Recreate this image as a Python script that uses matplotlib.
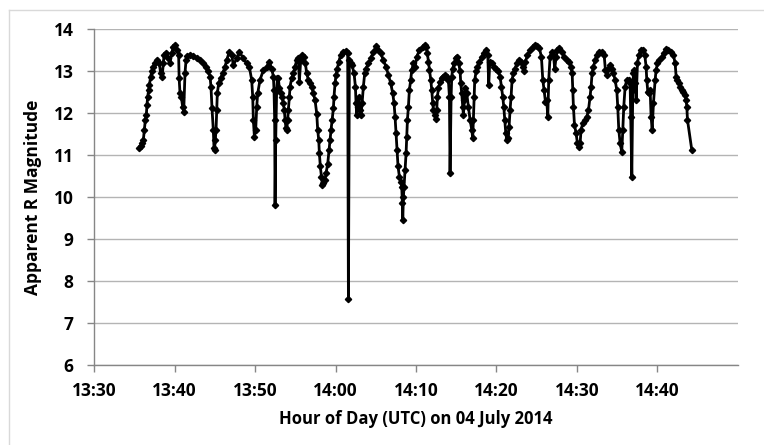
import matplotlib
matplotlib.use("Agg")
import matplotlib.pyplot as plt
from matplotlib.lines import Line2D
from matplotlib.ticker import FuncFormatter

plt.rcParams['font.family'] = ['Open Sans', 'DejaVu Sans']
plt.rcParams['font.weight'] = 'bold'

# time of each frame, minutes after 13:00 UTC
minutes = [
    35.60, 35.77, 35.93, 36.10, 36.22, 36.35, 36.47, 36.55, 36.64, 36.76,
    36.85, 37.01, 37.14, 37.34, 37.55, 37.76, 38.09, 38.25, 38.42, 38.59,
    38.67, 38.92, 39.21, 39.42, 39.62, 39.83, 40.04, 40.33, 40.49, 40.55,
    40.66, 40.82, 40.99, 41.12, 41.28, 41.41, 41.57, 41.90, 42.32, 42.73,
    43.15, 43.56, 43.89, 44.18, 44.39, 44.51, 44.64, 44.80, 44.89, 44.95,
    45.05, 45.14, 45.22, 45.30, 45.47, 45.72, 45.97, 46.26, 46.46, 46.80,
    47.09, 47.29, 47.71, 48.04, 48.54, 48.95, 49.28, 49.57, 49.70, 49.78,
    49.91, 50.07, 50.20, 50.32, 50.61, 51.02, 51.44, 51.77, 52.06, 52.27,
    52.35, 52.43, 52.48, 52.56, 52.68, 52.77, 52.89, 53.01, 53.18, 53.35,
    53.51, 53.64, 53.72, 53.84, 53.93, 54.05, 54.13, 54.26, 54.34, 54.55,
    54.76, 54.96, 55.17, 55.38, 55.50, 55.67, 55.88, 56.08, 56.25, 56.41,
    56.62, 56.83, 57.04, 57.24, 57.45, 57.66, 57.78, 57.91, 57.99, 58.11,
    58.24, 58.36, 58.49, 58.69, 58.82, 59.03, 59.19, 59.32, 59.44, 59.57,
    59.73, 59.81, 59.94, 60.06, 60.23, 60.39, 60.64, 60.98, 61.31, 61.51,
    61.60, 61.72, 61.89, 62.05, 62.30, 62.47, 62.55, 62.63, 62.76, 62.88,
    63.05, 63.17, 63.30, 63.46, 63.63, 63.79, 64.08, 64.37, 64.71, 65.04,
    65.33, 65.62, 65.95, 66.28, 66.57, 66.86, 67.11, 67.28, 67.40, 67.53,
    67.65, 67.77, 67.94, 68.11, 68.23, 68.31, 68.36, 68.44, 68.52, 68.65,
    68.77, 68.85, 68.94, 69.06, 69.18, 69.35, 69.47, 69.68, 69.89, 70.10,
    70.43, 70.84, 71.13, 71.26, 71.42, 71.55, 71.67, 71.84, 71.96, 72.09,
    72.17, 72.38, 72.50, 72.58, 72.67, 72.79, 73.00, 73.21, 73.41, 73.62,
    73.83, 74.03, 74.16, 74.24, 74.37, 74.45, 74.57, 74.74, 74.99, 75.15,
    75.32, 75.49, 75.57, 75.69, 75.82, 75.90, 76.02, 76.15, 76.31, 76.52,
    76.73, 76.94, 77.06, 77.14, 77.23, 77.31, 77.48, 77.64, 77.89, 78.18,
    78.47, 78.72, 78.93, 79.05, 79.18, 79.42, 79.71, 79.96, 80.25, 80.46,
    80.63, 80.79, 80.92, 81.04, 81.17, 81.29, 81.46, 81.58, 81.70, 81.83,
    81.95, 82.12, 82.33, 82.53, 82.78, 83.03, 83.28, 83.45, 83.61, 83.86,
    84.19, 84.52, 84.81, 85.10, 85.35, 85.60, 85.77, 85.93, 86.10, 86.26,
    86.39, 86.51, 86.68, 86.89, 87.09, 87.26, 87.43, 87.59, 87.84, 88.13,
    88.42, 88.75, 89.08, 89.25, 89.42, 89.50, 89.58, 89.71, 89.91, 90.08,
    90.24, 90.41, 90.53, 90.74, 91.03, 91.24, 91.45, 91.65, 91.78, 91.90,
    92.07, 92.28, 92.48, 92.81, 93.10, 93.40, 93.56, 93.73, 93.93, 94.14,
    94.35, 94.56, 94.76, 94.97, 95.09, 95.22, 95.39, 95.59, 95.72, 95.84,
    96.01, 96.21, 96.46, 96.63, 96.71, 96.84, 96.96, 97.04, 97.17, 97.29,
    97.38, 97.54, 97.71, 97.96, 98.20, 98.45, 98.62, 98.70, 98.83, 98.99,
    99.12, 99.24, 99.37, 99.53, 99.74, 99.86, 100.03, 100.28, 100.57, 100.86,
    101.11, 101.40, 101.69, 102.02, 102.23, 102.35, 102.52, 102.68, 102.85, 103.06,
    103.26, 103.47, 103.59, 103.68, 103.76, 104.30,
]

magnitude = [
    11.16, 11.22, 11.28, 11.36, 11.60, 11.84, 11.95, 12.19, 12.39, 12.55,
    12.67, 12.87, 12.99, 13.10, 13.18, 13.27, 13.18, 12.95, 12.85, 13.18,
    13.38, 13.44, 13.30, 13.18, 13.42, 13.58, 13.62, 13.50, 13.38, 12.83,
    12.47, 12.39, 12.15, 12.03, 12.95, 13.26, 13.36, 13.38, 13.36, 13.30,
    13.26, 13.18, 13.10, 12.99, 12.87, 12.63, 12.11, 11.60, 11.16, 11.12,
    11.36, 11.60, 12.07, 12.47, 12.71, 12.83, 12.95, 13.10, 13.26, 13.46,
    13.38, 13.14, 13.30, 13.46, 13.30, 13.18, 13.10, 12.79, 12.39, 11.84,
    11.44, 11.60, 12.15, 12.47, 12.79, 13.02, 13.10, 13.22, 13.06, 12.87,
    12.55, 11.84, 9.81, 11.36, 12.55, 12.83, 12.83, 12.59, 12.47, 12.39,
    12.23, 12.07, 11.84, 11.64, 11.60, 11.84, 12.07, 12.39, 12.63, 12.83,
    12.95, 13.10, 13.26, 13.30, 12.75, 13.26, 13.38, 13.34, 13.18, 12.95,
    12.79, 12.71, 12.63, 12.47, 12.31, 11.99, 11.60, 11.36, 11.04, 10.73,
    10.49, 10.29, 10.33, 10.41, 10.57, 10.80, 11.12, 11.36, 11.60, 11.84,
    12.11, 12.39, 12.71, 12.91, 13.06, 13.22, 13.38, 13.46, 13.48, 13.44,
    7.57, 13.26, 13.18, 13.14, 12.95, 12.63, 12.23, 11.95, 12.15, 12.39,
    12.07, 11.95, 12.23, 12.63, 12.95, 13.06, 13.18, 13.30, 13.46, 13.60,
    13.50, 13.42, 13.26, 13.10, 12.91, 12.71, 12.47, 12.23, 11.91, 11.52,
    11.12, 10.73, 10.49, 10.37, 10.25, 9.85, 9.46, 10.01, 10.25, 10.65,
    11.04, 11.44, 11.84, 12.15, 12.55, 12.79, 13.02, 13.18, 13.10, 13.34,
    13.50, 13.58, 13.62, 13.58, 13.42, 13.22, 13.02, 12.79, 12.55, 12.23,
    12.07, 11.95, 11.87, 12.07, 12.39, 12.59, 12.75, 12.83, 12.87, 12.91,
    12.87, 12.79, 12.39, 10.57, 12.39, 12.87, 13.06, 13.18, 13.30, 13.34,
    13.18, 12.99, 12.71, 12.47, 12.15, 11.95, 12.31, 12.59, 12.47, 12.15,
    11.84, 11.60, 11.40, 11.84, 12.39, 12.79, 12.99, 13.10, 13.22, 13.34,
    13.42, 13.50, 13.38, 12.67, 13.22, 13.18, 13.10, 13.06, 12.99, 12.87,
    12.63, 12.39, 12.15, 11.84, 11.52, 11.36, 11.40, 11.68, 12.07, 12.39,
    12.79, 12.95, 13.06, 13.18, 13.26, 13.22, 13.10, 12.99, 13.22, 13.38,
    13.50, 13.58, 13.62, 13.60, 13.54, 13.34, 12.79, 12.55, 12.27, 12.31,
    11.91, 12.79, 13.34, 13.46, 13.38, 13.06, 13.34, 13.50, 13.54, 13.46,
    13.34, 13.26, 13.22, 13.10, 12.95, 12.55, 12.15, 11.72, 11.52, 11.28,
    11.20, 11.28, 11.60, 11.76, 11.84, 11.91, 12.07, 12.39, 12.63, 12.95,
    13.10, 13.26, 13.38, 13.46, 13.46, 13.38, 13.02, 12.91, 13.06, 13.14,
    13.06, 12.95, 12.79, 12.55, 12.15, 11.60, 11.28, 11.08, 11.60, 12.15,
    12.63, 12.79, 12.79, 12.71, 11.91, 10.49, 12.55, 12.95, 13.02, 12.71,
    12.31, 13.18, 13.38, 13.50, 13.50, 13.38, 13.10, 12.79, 12.51, 12.47,
    12.55, 11.91, 11.60, 12.23, 12.79, 13.02, 13.18, 13.26, 13.34, 13.42,
    13.52, 13.50, 13.46, 13.38, 13.18, 12.87, 12.79, 12.71, 12.63, 12.55,
    12.51, 12.43, 12.31, 12.15, 11.84, 11.12,
]

tick_minutes = [30, 40, 50, 60, 70, 80, 90, 100]
mag_ticks = [6, 7, 8, 9, 10, 11, 12, 13, 14]


def clock(v, pos):
    m = int(round(v))
    return f"{13 + m // 60}:{m % 60:02d}"


fig = plt.figure(figsize=(7.64, 4.45), dpi=100)
ax = fig.add_axes([0.1234, 0.1791, 0.8421, 0.7557])

ax.plot(minutes, magnitude, color='black', lw=2.0, marker='D', ms=3.2, zorder=3)

ax.set_xlim(30, 110)
ax.set_ylim(6, 14)
ax.set_xticks(tick_minutes)
ax.xaxis.set_major_formatter(FuncFormatter(clock))
ax.set_yticks(mag_ticks)

ax.yaxis.grid(True, color='#b4b4b4', lw=1)
ax.set_axisbelow(True)
for side in ['top', 'right']:
    ax.spines[side].set_visible(False)
for side in ['left', 'bottom']:
    ax.spines[side].set_color('#868686')
    ax.spines[side].set_linewidth(1)

ax.tick_params(axis='both', direction='out', length=5, width=1, color='#868686',
               labelsize=12.5)
ax.tick_params(axis='x', pad=7)
ax.tick_params(axis='y', pad=10)

ax.set_xlabel('Hour of Day (UTC) on 04 July 2014', fontsize=12, fontweight='bold', labelpad=7)
ax.set_ylabel('Apparent R Magnitude', fontsize=12.5, fontweight='bold', labelpad=8)

# chart area border (only left and top edges fall inside the picture)
fig.add_artist(Line2D([8.5 / 764, 8.5 / 764], [0, 1 - 10 / 445], color='#d9d9d9', lw=1,
                      transform=fig.transFigure))
fig.add_artist(Line2D([8.5 / 764, 1], [1 - 10 / 445, 1 - 10 / 445], color='#d9d9d9', lw=1,
                      transform=fig.transFigure))

fig.savefig('out.png', dpi=100)
